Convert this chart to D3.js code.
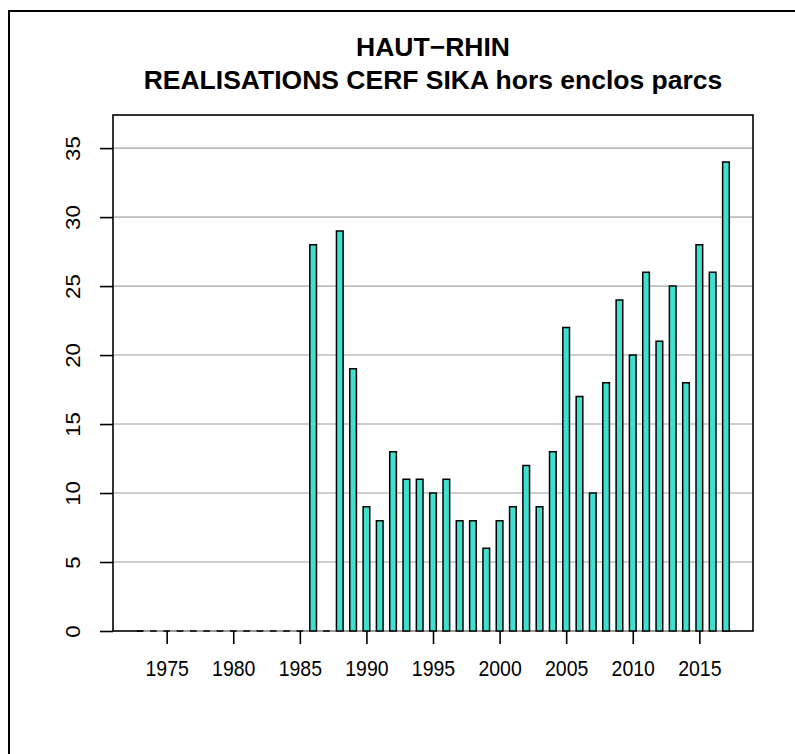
<!DOCTYPE html>
<html>
<head>
<meta charset="utf-8">
<script src="https://cdn.jsdelivr.net/npm/d3@7"></script>
<style>
  html, body { margin: 0; padding: 0; background: #fff; }
  svg { display: block; }
  text { font-family: "Liberation Sans", Arial, Helvetica, sans-serif; fill: #000; }
</style>
</head>
<body>
<svg id="chart" width="795" height="754"></svg>
<script>
const years = d3.range(1973, 2018);
const values = [0,0,0,0,0,0,0,0,0,0,0,0,0,
                28,0,29,19,9,8,13,11,11,10,11,8,8,6,8,9,12,9,13,
                22,17,10,18,24,20,26,21,25,18,28,26,34];
const xTicks = [1975,1980,1985,1990,1995,2000,2005,2010,2015];
const yTicks = [0,5,10,15,20,25,30,35];
const titleLines = ["HAUT\u2212RHIN", "REALISATIONS CERF SIKA hors enclos parcs"];

const svg = d3.select("#chart");
const L = 113, R = 753, T = 115, B = 631;

// R barplot: width 1, space 1 -> pitch of 1 year, xaxs "r" 4% extension
const n = years.length;
const ext = 0.04 * (2 * n - 1) / 2 + 0.25; // in years
const x = d3.scaleLinear().domain([years[0] - ext, years[n - 1] + ext]).range([L, R]);
const y = d3.scaleLinear().domain([0, d3.max(values) * 1.1]).range([B, T]);
const bw = x(0.5) - x(0);

// outer device border
svg.append("rect").attr("x", 9).attr("y", 11).attr("width", 820).attr("height", 800)
  .attr("fill", "none").attr("stroke", "#000").attr("stroke-width", 2);

// plot box
svg.append("rect").attr("x", L).attr("y", T).attr("width", R - L).attr("height", B - T)
  .attr("fill", "none").attr("stroke", "#000").attr("stroke-width", 1.6);

// gridlines
svg.append("g").selectAll("line").data(yTicks.filter(d => d > 0)).join("line")
  .attr("x1", L + 1).attr("x2", R - 1)
  .attr("y1", d => y(d)).attr("y2", d => y(d))
  .attr("stroke", "#bebebe").attr("stroke-width", 1.6);
svg.append("line")
  .attr("x1", x(years[0]) + bw / 2).attr("x2", x(years[n - 1]) - bw / 2)
  .attr("y1", y(0)).attr("y2", y(0))
  .attr("stroke", "#bebebe").attr("stroke-width", 1.6);

// bars (as paths so zero-height bars still draw their outline)
svg.append("g").selectAll("path").data(years.map((yr, i) => ({yr, v: values[i]}))).join("path")
  .attr("d", d => {
    const x0 = x(d.yr) - bw / 2, x1 = x(d.yr) + bw / 2, y0 = y(0), y1 = y(d.v);
    return `M${x0},${y0}L${x0},${y1}L${x1},${y1}L${x1},${y0}Z`;
  })
  .attr("fill", "#40E0D0")
  .attr("stroke", "#000")
  .attr("stroke-width", 1.5)
  .attr("stroke-linejoin", "miter");

// y axis
const yAxis = d3.axisLeft(y).tickValues(yTicks).tickSize(13).tickPadding(0).tickFormat(d3.format("d"));
const gy = svg.append("g").attr("transform", `translate(${L},0)`).call(yAxis);
gy.select(".domain").remove();
gy.selectAll(".tick line").attr("stroke", "#000").attr("stroke-width", 1.6);
gy.selectAll(".tick text")
  .attr("x", 0).attr("y", 0).attr("dy", null).attr("text-anchor", "middle")
  .attr("transform", "translate(-40,0) scale(1,1.08) rotate(-90)")
  .attr("dominant-baseline", "central")
  .style("font-size", "20.5px");

// x axis
const xAxis = d3.axisBottom(x).tickValues(xTicks).tickSize(13).tickPadding(0).tickFormat(d3.format("d"));
const gx = svg.append("g").attr("transform", `translate(0,${B})`).call(xAxis);
gx.select(".domain").remove();
gx.selectAll(".tick line").attr("stroke", "#000").attr("stroke-width", 1.6);
gx.selectAll(".tick text")
  .attr("y", 0).attr("dy", null)
  .attr("transform", "translate(0,37) scale(0.95,1.12)")
  .attr("dominant-baseline", "central")
  .style("font-size", "20.5px");

// title
svg.append("g").selectAll("text").data(titleLines).join("text")
  .attr("x", (L + R) / 2)
  .attr("y", (d, i) => 47 + i * 33)
  .attr("text-anchor", "middle")
  .attr("dominant-baseline", "central")
  .style("font-size", "26.5px")
  .style("font-weight", "bold")
  .text(d => d);
</script>
</body>
</html>
